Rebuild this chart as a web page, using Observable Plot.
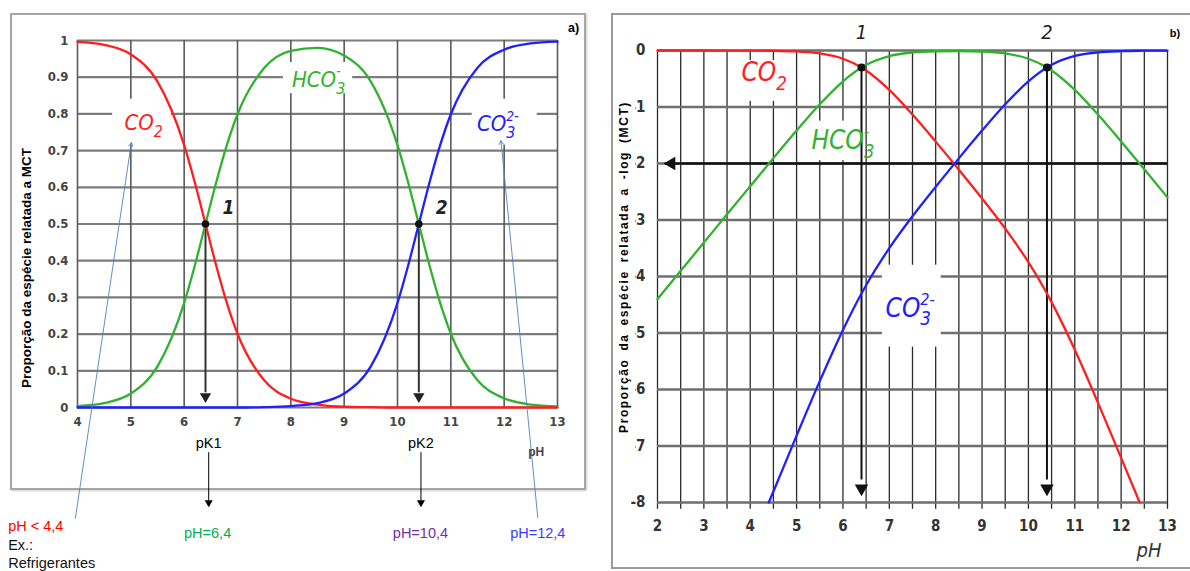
<!DOCTYPE html>
<html><head><meta charset="utf-8">
<script src="https://cdn.jsdelivr.net/npm/d3@7"></script>
<script src="https://cdn.jsdelivr.net/npm/@observablehq/plot@0.6"></script>
<style>
body{margin:0;background:#fff;}
#wrap{position:relative;width:1190px;height:571px;overflow:hidden;font-family:"Liberation Sans",Arial,sans-serif;background:#fff;}
.frame{position:absolute;box-sizing:border-box;}
.vtitle{position:absolute;transform:rotate(-90deg);transform-origin:center;white-space:nowrap;text-align:center;font-weight:bold;color:#000;}
#wrap svg{position:absolute;top:0;}
</style></head><body><div id="wrap"></div>
<script>
// ---------- Panel a) : fraction of species vs pH ----------
const phA   = [4,4.5,5,5.5,6,6.2,6.4,6.6,6.8,7,7.5,8,8.5,9,9.5,10,10.2,10.4,10.6,10.8,11,11.5,12,12.5,13];
const co2A  = [0.996,0.988,0.962,0.888,0.715,0.613,0.5,0.387,0.285,0.201,0.074,0.024,0.008,0.002,0.001,0,0,0,0,0,0,0,0,0,0];
const hco3A = [0.004,0.012,0.038,0.112,0.285,0.387,0.5,0.613,0.715,0.799,0.925,0.972,0.980,0.959,0.888,0.715,0.613,0.5,0.387,0.285,0.201,0.074,0.025,0.008,0.003];
const co3A  = [0,0,0,0,0,0,0,0,0,0,0.001,0.004,0.012,0.038,0.112,0.285,0.387,0.5,0.613,0.715,0.799,0.926,0.975,0.992,0.997];
const xTicksA = [4,5,6,7,8,9,10,11,12,13];
const yTicksA = [0,0.1,0.2,0.3,0.4,0.5,0.6,0.7,0.8,0.9,1];
const pKs = [6.4,10.4];

// ---------- Panel b) : log fraction vs pH ----------
const phB   = [2,2.5,3,3.5,4,4.4,4.5,5,5.5,6,6.4,6.5,7,7.5,8,8.5,9,9.5,10,10.4,10.5,11,11.5,12,12.4,12.5,13];
const co2B  = [0,0,0,-0.001,-0.002,-0.004,-0.005,-0.017,-0.052,-0.146,-0.301,-0.354,-0.698,-1.134,-1.613,-2.109,-2.618,-3.152,-3.746,-4.301,-4.454,-5.297,-6.233,-7.211,-8.0,null,null];
const hco3B = [-4.4,-3.9,-3.4,-2.9,-2.402,-2.004,-1.905,-1.417,-0.952,-0.546,-0.301,-0.254,-0.098,-0.034,-0.013,-0.009,-0.018,-0.052,-0.146,-0.301,-0.354,-0.697,-1.133,-1.611,-2.004,-2.103,-2.601];
const co3B  = [null,null,null,null,null,-8.0,-7.805,-6.817,-5.852,-4.946,-4.301,-4.154,-3.498,-2.934,-2.413,-1.909,-1.418,-0.952,-0.546,-0.301,-0.254,-0.097,-0.033,-0.011,-0.004,-0.003,-0.001];
const xGridB  = [2,2.5,3,3.5,4,4.5,5,5.5,6,6.5,7,7.5,8,8.5,9,9.5,10,10.5,11,11.5,12,12.5,13];
const xTicksB = [2,3,4,5,6,7,8,9,10,11,12,13];
const yTicksB = [0,-1,-2,-3,-4,-5,-6,-7,-8];

// text labels
const RED="#ff1e1e", GREEN="#2fb32f", BLUE="#2020ff";
const speciesA = [
  {x:5.24, y:0.775, t:"CO_2", c:RED},
  {x:8.52, y:0.893, t:"HCO_3^-", c:GREEN},
  {x:11.88,y:0.772, t:"CO_3^2-", c:BLUE}
];
const boxesA = [
  {x1:4.66, x2:5.76, y1:0.715, y2:0.84},
  {x1:7.86, x2:9.16, y1:0.855, y2:0.94},
  {x1:11.4, x2:12.62,y1:0.715, y2:0.84}
];
const speciesB = [
  {x:4.3, y:-0.4, t:"CO_2", c:RED},
  {x:6.0, y:-1.6, t:"HCO_3^-", c:GREEN},
  {x:7.45,y:-4.57,t:"CO_3^2-", c:BLUE}
];
const boxesB = [
  {x1:3.85, x2:4.85, y1:-0.18, y2:-0.9},
  {x1:5.35, x2:6.38, y1:-1.25, y2:-1.95},
  {x1:6.85, x2:8.12, y1:-3.8, y2:-5.25}
];
const notesA = [
  {x:6.46, y:-0.098, t:"pK1", c:"#000", a:"middle"},
  {x:10.44,y:-0.098, t:"pK2", c:"#000", a:"middle"},
  {x:2.7,  y:-0.325, t:"pH < 4,4", c:"#ff0000", a:"start"},
  {x:2.7,  y:-0.377, t:"Ex.:", c:"#111", a:"start"},
  {x:2.7,  y:-0.424, t:"Refrigerantes", c:"#111", a:"start"},
  {x:6.44, y:-0.343, t:"pH=6,4", c:"#00b050", a:"middle"},
  {x:10.43,y:-0.343, t:"pH=10,4", c:"#7030a0", a:"middle"},
  {x:12.63,y:-0.343, t:"pH=12,4", c:"#3a3aff", a:"middle"}
];
const pointersA = [
  {x1:3.96, y1:-0.302, x2:5.01, y2:0.722},
  {x1:12.63,y1:-0.30,  x2:11.94,y2:0.727}
];
const downA = [6.46, 10.44];

const tickFont = '"Liberation Sans Narrow","DejaVu Sans Condensed","Arial Narrow",sans-serif';
const labelFont = '"Liberation Sans Narrow","DejaVu Sans Condensed","Arial Narrow",sans-serif';

const rowsA = phA.map((ph,i)=>({ph, co2:co2A[i], hco3:hco3A[i], co3:co3A[i]}));
const rowsB = phB.map((ph,i)=>({ph, co2:co2B[i], hco3:hco3B[i], co3:co3B[i]}));

const speciesMarks = (arr, size) => arr.map(d => Plot.text([d], {x:"x", y:"y", text:"t", fill:d.c, fontSize:size, fontStyle:"italic", fontFamily:labelFont}));

const plotA = Plot.plot({
  width:600, height:571, marginLeft:77, marginRight:43, marginTop:40, marginBottom:164,
  x:{domain:[4,13]}, y:{domain:[0,1]},
  style:{background:"none", overflow:"visible", fontFamily:'"Liberation Sans",Arial,sans-serif'},
  marks:[
    Plot.ruleY(yTicksA, {stroke:"#7c7c7c", strokeWidth:2.2}),
    Plot.ruleX(xTicksA, {stroke:"#5a5a5a", strokeWidth:1.6}),
    Plot.rect(boxesA, {x1:"x1", x2:"x2", y1:"y1", y2:"y2", fill:"white"}),
    Plot.axisX({ticks:xTicksA, tickSize:0, tickPadding:9, label:null, fontSize:13, fontWeight:"bold", color:"#444", fontFamily:tickFont}),
    Plot.axisY({ticks:yTicksA, tickSize:0, tickPadding:9, label:null, tickFormat:d=>String(+d.toFixed(1)), fontSize:13, fontWeight:"bold", color:"#444", fontFamily:tickFont}),
    Plot.ruleX(pKs, {y1:0.5, y2:0.04, stroke:"#333", strokeWidth:2}),
    Plot.dot(pKs, {x:d=>d, y:0.03, symbol:"triangle", rotate:180, r:4.2, fill:"#222", stroke:"none"}),
    Plot.line(rowsA, {x:"ph", y:"hco3", stroke:GREEN, strokeWidth:2.3, curve:"monotone-x"}),
    Plot.line(rowsA, {x:"ph", y:"co2", stroke:RED, strokeWidth:2.3, curve:"monotone-x"}),
    Plot.line(rowsA, {x:"ph", y:"co3", stroke:BLUE, strokeWidth:2.3, curve:"monotone-x"}),
    Plot.dot(pKs, {x:d=>d, y:0.5, r:3.8, fill:"#111", stroke:"none"}),
    ...speciesMarks(speciesA, 22),
    Plot.text([{x:6.83,y:0.545,t:"1"},{x:10.83,y:0.545,t:"2"}], {x:"x", y:"y", text:"t", fontSize:19, fontStyle:"italic", fontWeight:"bold", fill:"#222", fontFamily:labelFont}),
    Plot.arrow(pointersA, {x1:"x1", y1:"y1", x2:"x2", y2:"y2", stroke:"#4f81bd", strokeWidth:0.9, headLength:7}),
    Plot.ruleX(downA, {y1:-0.123, y2:-0.255, stroke:"#000", strokeWidth:1}),
    Plot.dot(downA, {x:d=>d, y:-0.259, symbol:"triangle", rotate:180, r:3, fill:"#000", stroke:"none"}),
    ...notesA.map(d => Plot.text([d], {x:"x", y:"y", text:"t", fill:d.c, textAnchor:d.a, fontSize:14.5})),
    Plot.text([{x:12.6, y:-0.123, t:"pH"}], {x:"x", y:"y", text:"t", fontSize:12, fontWeight:"bold", fill:"#444"}),
    Plot.text([{x:13.3, y:1.033, t:"a)"}], {x:"x", y:"y", text:"t", fontSize:12.5, fontWeight:"bold", fill:"#000"})
  ]
});

const plotB = Plot.plot({
  width:590, height:571, marginLeft:57, marginRight:23, marginTop:50, marginBottom:69,
  x:{domain:[2,13]}, y:{domain:[-8,0]},
  style:{background:"none", overflow:"visible", fontFamily:'"Liberation Sans",Arial,sans-serif'},
  marks:[
    Plot.ruleX(xGridB, {y1:0, y2:-8.12, stroke:"#2a2a2a", strokeWidth:1.3}),
    Plot.ruleY(yTicksB, {stroke:"#6e6e6e", strokeWidth:2.6}),
    Plot.ruleY([-2], {x1:2.17, x2:13, stroke:"#111", strokeWidth:2.6}),
    Plot.dot([-2], {x:2.3, y:d=>d, symbol:"triangle", rotate:-90, r:5, fill:"#111", stroke:"none"}),
    Plot.rect(boxesB, {x1:"x1", x2:"x2", y1:"y1", y2:"y2", fill:"white"}),
    Plot.ruleX(pKs, {y1:-0.3, y2:-7.6, stroke:"#111", strokeWidth:2}),
    Plot.dot(pKs, {x:d=>d, y:-7.75, symbol:"triangle", rotate:180, r:5, fill:"#111", stroke:"none"}),
    Plot.axisX({ticks:xTicksB, tickSize:0, tickPadding:18, label:null, fontSize:15, fontWeight:"bold", color:"#333", fontFamily:tickFont}),
    Plot.axisY({ticks:yTicksB, tickSize:0, tickPadding:12, label:null, tickFormat:d=>String(d), fontSize:15, fontWeight:"bold", color:"#333", fontFamily:tickFont}),
    Plot.line(rowsB, {x:"ph", y:"hco3", stroke:GREEN, strokeWidth:2.3, curve:"monotone-x"}),
    Plot.line(rowsB, {x:"ph", y:"co2", stroke:RED, strokeWidth:2.3, curve:"monotone-x"}),
    Plot.line(rowsB, {x:"ph", y:"co3", stroke:BLUE, strokeWidth:2.3, curve:"monotone-x"}),
    Plot.dot(pKs, {x:d=>d, y:-0.3, r:4, fill:"#111", stroke:"none"}),
    ...speciesMarks(speciesB, 26),
    Plot.text([{x:6.4,y:0.32,t:"1"},{x:10.4,y:0.32,t:"2"}], {x:"x", y:"y", text:"t", fontSize:20, fontStyle:"italic", fill:"#222", fontFamily:labelFont}),
    Plot.text([{x:12.6, y:-8.85, t:"pH"}], {x:"x", y:"y", text:"t", fontSize:20, fontStyle:"italic", fill:"#333", fontFamily:labelFont}),
    Plot.text([{x:13.16, y:0.3, t:"b)"}], {x:"x", y:"y", text:"t", fontSize:11, fontWeight:"bold", fill:"#000"})
  ]
});

const wrap = document.getElementById("wrap");
function addDiv(cls, css, html){ const d=document.createElement("div"); d.className=cls; d.style.cssText=css; if(html) d.innerHTML=html; wrap.appendChild(d); return d; }
addDiv("frame","left:10px;top:13px;width:576px;height:477px;border:2px solid #a6a6a6;box-shadow:1px 1px 2px #ccc;");
addDiv("frame","left:611px;top:13px;width:600px;height:556px;border:2px solid #9a9a9a;");
plotA.style.left="0px"; wrap.appendChild(plotA);
plotB.style.left="600px"; wrap.appendChild(plotB);
addDiv("vtitle","left:-123px;top:258px;width:300px;height:20px;font-size:13.5px;line-height:20px;","Proporção da espécie relatada a MCT");
addDiv("vtitle","left:424px;top:256px;width:400px;height:22px;font-size:12px;line-height:22px;letter-spacing:1.6px;word-spacing:3px;background:#fff;","Proporção da espécie relatada a -log (MCT)");

function rich(svg){
  const ns="http://www.w3.org/2000/svg";
  svg.querySelectorAll('text').forEach(t=>{
    const raw=t.textContent;
    if(!/[_^]/.test(raw)) return;
    const m=raw.match(/^([^_^]+)(?:_([^\^]*))?(?:\^(.*))?$/);
    if(!m) return;
    while(t.firstChild) t.removeChild(t.firstChild);
    const main=document.createElementNS(ns,"tspan"); main.textContent=m[1]; t.appendChild(main);
    let subLen=0;
    if(m[2]){ const s=document.createElementNS(ns,"tspan"); s.style.fontSize="72%"; s.setAttribute("dy","0.45em"); s.textContent=m[2]; t.appendChild(s); subLen=s.getComputedTextLength(); }
    if(m[3]){ const p=document.createElementNS(ns,"tspan"); p.style.fontSize="62%"; p.setAttribute("dx", String(-subLen)); p.setAttribute("dy", m[2]?"-1.3em":"-0.5em"); p.textContent=m[3]; t.appendChild(p); }
  });
}
rich(plotA); rich(plotB);
</script></body></html>
